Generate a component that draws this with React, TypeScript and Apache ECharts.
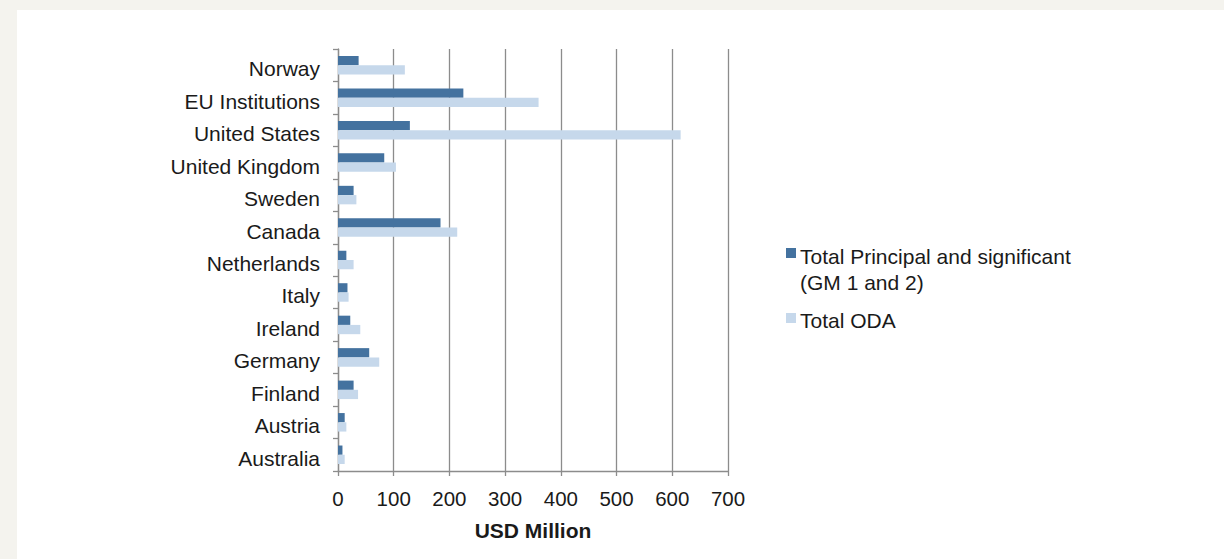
import React, { useEffect, useRef } from "react";
import * as echarts from "echarts";

const categories = [
  "Norway",
  "EU Institutions",
  "United States",
  "United Kingdom",
  "Sweden",
  "Canada",
  "Netherlands",
  "Italy",
  "Ireland",
  "Germany",
  "Finland",
  "Austria",
  "Australia",
];
const principalSignificant = [37, 225, 129, 83, 28, 184, 15, 17, 22, 56, 28, 12, 8];
const totalODA = [120, 360, 615, 104, 33, 214, 28, 19, 40, 74, 36, 15, 12];
const xTicks = { min: 0, max: 700, interval: 100 };
const seriesNames = ["Total Principal and significant (GM 1 and 2)", "Total ODA"];

const DARK = "#44729f";
const LIGHT = "#c6d8eb";
const GRID = "#8c8c8c";
const FONT = "'Liberation Sans', Arial, sans-serif";

export default function App() {
  const ref = useRef<HTMLDivElement>(null);
  useEffect(() => {
    document.body.style.margin = "0";
    const chart = echarts.init(ref.current!, null, { renderer: "svg" });
    chart.setOption({
      animation: false,
      backgroundColor: "#f4f3ee",
      textStyle: { fontFamily: FONT },
      grid: { left: 338, right: 496, top: 49, bottom: 88, containLabel: false },
      xAxis: {
        type: "value",
        min: xTicks.min,
        max: xTicks.max,
        interval: xTicks.interval,
        name: "USD Million",
        nameLocation: "middle",
        nameGap: 49,
        nameTextStyle: { fontSize: 21, fontWeight: "bold", color: "#1a1a1a", fontFamily: FONT },
        axisLine: { show: true, lineStyle: { color: GRID, width: 1.3 } },
        axisTick: { show: true, length: 5, lineStyle: { color: GRID, width: 1.3 } },
        axisLabel: { fontSize: 20.5, color: "#1a1a1a", margin: 17, fontFamily: FONT },
        splitLine: { show: true, lineStyle: { color: GRID, width: 1.3 } },
      },
      yAxis: {
        type: "category",
        data: categories,
        inverse: true,
        axisLine: { show: true, lineStyle: { color: GRID, width: 1.3 } },
        axisTick: { show: true, length: 5, alignWithLabel: false, lineStyle: { color: GRID, width: 1.3 } },
        axisLabel: {
          fontSize: 21,
          color: "#1a1a1a",
          margin: 18,
          verticalAlign: "top",
          lineHeight: 7,
          fontFamily: FONT,
        },
        splitLine: { show: false },
      },
      series: [
        {
          name: seriesNames[0],
          type: "bar",
          data: principalSignificant,
          itemStyle: { color: DARK },
          barGap: "0%",
          barCategoryGap: "43%",
        },
        {
          name: seriesNames[1],
          type: "bar",
          data: totalODA,
          itemStyle: { color: LIGHT },
          barGap: "0%",
          barCategoryGap: "43%",
        },
      ],
      graphic: [
        {
          type: "rect",
          z: -10,
          silent: true,
          shape: { x: 17, y: 10, width: 1224 - 17, height: 559 - 10 },
          style: { fill: "#ffffff" },
        },
        {
          type: "rect",
          shape: { x: 786, y: 248, width: 10, height: 10 },
          style: { fill: DARK },
        },
        {
          type: "text",
          x: 800,
          y: 243,
          style: {
            text: "Total Principal and significant\n(GM 1 and 2)",
            fontSize: 21,
            lineHeight: 26,
            fontFamily: FONT,
            fill: "#1a1a1a",
            verticalAlign: "top",
          },
        },
        {
          type: "rect",
          shape: { x: 786, y: 313, width: 10, height: 10 },
          style: { fill: LIGHT },
        },
        {
          type: "text",
          x: 800,
          y: 307,
          style: {
            text: "Total ODA",
            fontSize: 21,
            lineHeight: 26,
            fontFamily: FONT,
            fill: "#1a1a1a",
            verticalAlign: "top",
          },
        },
      ],
    });
    return () => chart.dispose();
  }, []);
  return <div ref={ref} style={{ width: 1224, height: 559 }} />;
}
